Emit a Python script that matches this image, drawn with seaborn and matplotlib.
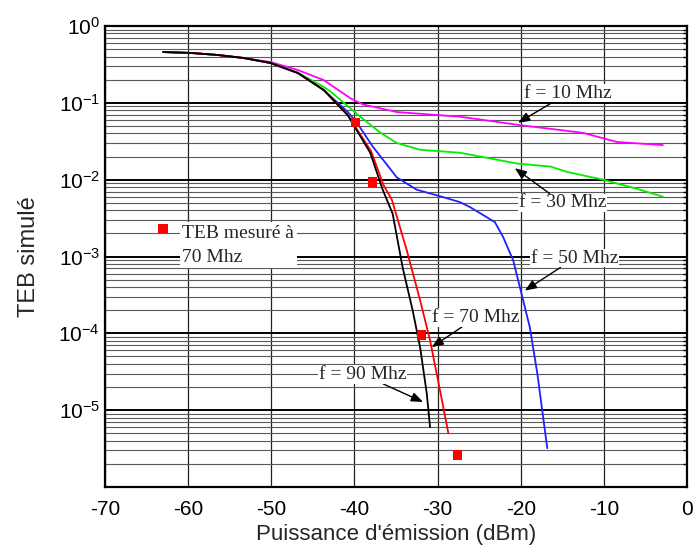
"""TEB simulé en fonction de la puissance d'émission, pour plusieurs fréquences."""

import matplotlib
matplotlib.use("Agg")
import matplotlib.pyplot as plt
from matplotlib.ticker import LogLocator, FixedLocator, NullFormatter
import seaborn as sns
import pandas as pd

# ---- données (puissance en dBm, TEB) ----
p_10 = [-63, -59.7, -56.5, -53.3, -50.1, -46.8, -43.7, -40.5, -39.0, -34.9, -27.3, -20.1, -12.5, -8.4, -2.9]
teb_10 = [0.458, 0.446, 0.420, 0.383, 0.340, 0.267, 0.198, 0.115, 0.0955, 0.0759, 0.066, 0.0513, 0.0407, 0.0309, 0.0282]

p_30 = [-63, -59.7, -56.5, -53.3, -50.1, -46.8, -43.7, -42.9, -39.3, -36.9, -34.9, -32.1, -27.3, -20.4,
        -16.4, -14.4, -10.1, -6.0, -2.9]
teb_30 = [0.458, 0.446, 0.420, 0.383, 0.330, 0.248, 0.161, 0.141, 0.066, 0.041, 0.030, 0.0245, 0.0224, 0.0162,
          0.0148, 0.0126, 0.0100, 0.0076, 0.0060]

p_50 = [-63, -59.7, -56.5, -53.3, -50.1, -46.8, -43.7, -40.8, -39.7, -37.8, -34.9, -32.5, -29.5, -27.3, -26.1,
        -23.1, -22.1, -20.9, -20.1, -18.9, -18.0, -16.8]
teb_50 = [0.458, 0.446, 0.420, 0.383, 0.330, 0.244, 0.147, 0.076, 0.055, 0.027, 0.0107, 0.0074, 0.0060, 0.0051,
          0.0044, 0.0028, 0.00178, 8.9e-4, 4.0e-4, 1.2e-4, 3.0e-5, 3.2e-6]

p_70 = [-63, -59.7, -56.5, -53.3, -50.1, -46.8, -43.7, -40.8, -38.0, -36.5, -35.5, -33.7, -32.1, -30.9, -29.7, -28.7]
teb_70 = [0.458, 0.446, 0.420, 0.383, 0.330, 0.244, 0.147, 0.069, 0.0235, 0.0085, 0.0055, 1.2e-3, 2.7e-4, 8.1e-5,
          1.8e-5, 5.0e-6]

p_90 = [-63, -59.7, -56.5, -53.3, -50.1, -46.8, -43.7, -40.8, -38.1, -36.6, -35.4, -34.2, -33.0, -32.1, -31.3, -30.9]
teb_90 = [0.458, 0.446, 0.420, 0.383, 0.330, 0.244, 0.147, 0.069, 0.0224, 0.0074, 0.0036, 7.2e-4, 2.0e-4, 6.6e-5,
          1.66e-5, 6.0e-6]

# TEB mesuré à 70 MHz
p_mesure = [-39.9, -37.8, -31.9, -27.6]
teb_mesure = [0.056, 0.0093, 9.5e-5, 2.6e-6]

freq_labels = ["f = 10 Mhz", "f = 30 Mhz", "f = 50 Mhz", "f = 70 Mhz", "f = 90 Mhz"]
x_ticks = [-70, -60, -50, -40, -30, -20, -10, 0]
y_ticks = [1e0, 1e-1, 1e-2, 1e-3, 1e-4, 1e-5]

# positions des étiquettes (texte, pointe de flèche)
label_pos = [(-14.3, 0.134), (-15.0, 0.0050), (-13.5, 9.5e-4), (-25.4, 1.6e-4), (-39.0, 2.9e-5)]
arrow_tip = [(-20.3, 0.055), (-20.7, 0.0141), (-19.5, 3.6e-4), (-30.7, 6.6e-5), (-31.75, 1.28e-5)]

couleurs = {"f = 10 Mhz": "#ff00ff", "f = 30 Mhz": "#00ee00", "f = 50 Mhz": "#2020ff",
            "f = 70 Mhz": "#ff0000", "f = 90 Mhz": "#000000"}

# tableau long pour seaborn
series = [(p_10, teb_10), (p_30, teb_30), (p_50, teb_50), (p_70, teb_70), (p_90, teb_90)]
frames = []
for lab, (p, t) in zip(freq_labels, series):
    frames.append(pd.DataFrame({"puissance": p, "teb": t, "freq": lab}))
df = pd.concat(frames, ignore_index=True)
df_mes = pd.DataFrame({"puissance": p_mesure, "teb": teb_mesure})

sns.set_theme(style="white")
plt.rcParams["font.family"] = ["Liberation Sans", "DejaVu Sans"]
plt.rcParams["mathtext.default"] = "regular"
plt.rcParams["axes.unicode_minus"] = False

fig = plt.figure(figsize=(6.96, 5.53), dpi=100)
ax = fig.add_axes([0.1509, 0.1193, 0.8361, 0.8337])

ax.set_yscale("log")
ax.set_xlim(-70, 0)
ax.set_ylim(1e-6, 1)

# grille façon papier log
ax.yaxis.set_major_locator(FixedLocator(y_ticks))
ax.yaxis.set_minor_locator(LogLocator(base=10, subs=range(2, 10), numticks=20))
ax.yaxis.set_minor_formatter(NullFormatter())
ax.set_xticks(x_ticks)
ax.set_xticklabels([str(v) for v in x_ticks])
ax.grid(True, which="major", axis="y", color="black", linewidth=1.4)
ax.grid(True, which="minor", axis="y", color="#5a5a5a", linewidth=0.8)
ax.grid(True, which="major", axis="x", color="#222222", linewidth=0.9)
ax.set_axisbelow(True)

sns.lineplot(data=df, x="puissance", y="teb", hue="freq", palette=couleurs, sort=False,
             estimator=None, linewidth=1.3, legend=False, ax=ax)
sns.scatterplot(data=df_mes, x="puissance", y="teb", marker="s", color="red", s=45,
                edgecolor="none", label="TEB mesuré à\n70 Mhz", zorder=5, ax=ax)

for lab, (tx, ty), (hx, hy) in zip(freq_labels, label_pos, arrow_tip):
    ax.annotate(lab, xy=(hx, hy), xytext=(tx, ty), ha="center", va="center",
                fontsize=14, family=["Liberation Serif", "DejaVu Serif"],
                bbox=dict(facecolor="white", edgecolor="none", pad=0.5),
                arrowprops=dict(arrowstyle="-|>,head_length=0.5,head_width=0.2",
                                color="black", lw=1.0, shrinkA=0, shrinkB=0))

# légende : carré rouge aligné sur la première ligne du texte
leg = ax.legend(loc="upper left", bbox_to_anchor=(0.086, 0.568), frameon=False,
                borderpad=0, borderaxespad=0, handlelength=0.8, handletextpad=0.6,
                handleheight=2.1, scatteryoffsets=[0.75],
                prop={"family": "Liberation Serif", "size": 14})
for t in leg.get_texts():
    t.set_linespacing(1.5)
    t.set_bbox(dict(facecolor="white", edgecolor="none", pad=2))

for s in ax.spines.values():
    s.set_visible(True)
    s.set_color("black")
    s.set_linewidth(1.6)

ax.tick_params(axis="both", which="both", direction="in", right=True, labelsize=15, colors="black")
ax.tick_params(axis="x", pad=9)
ax.tick_params(axis="y", which="minor", length=3)
ax.set_xlabel("Puissance d'émission (dBm)", fontsize=16, labelpad=4)
ax.set_ylabel("TEB simulé", fontsize=17, labelpad=13)

fig.savefig("out.png", dpi=100, facecolor="white")
plt.close(fig)
